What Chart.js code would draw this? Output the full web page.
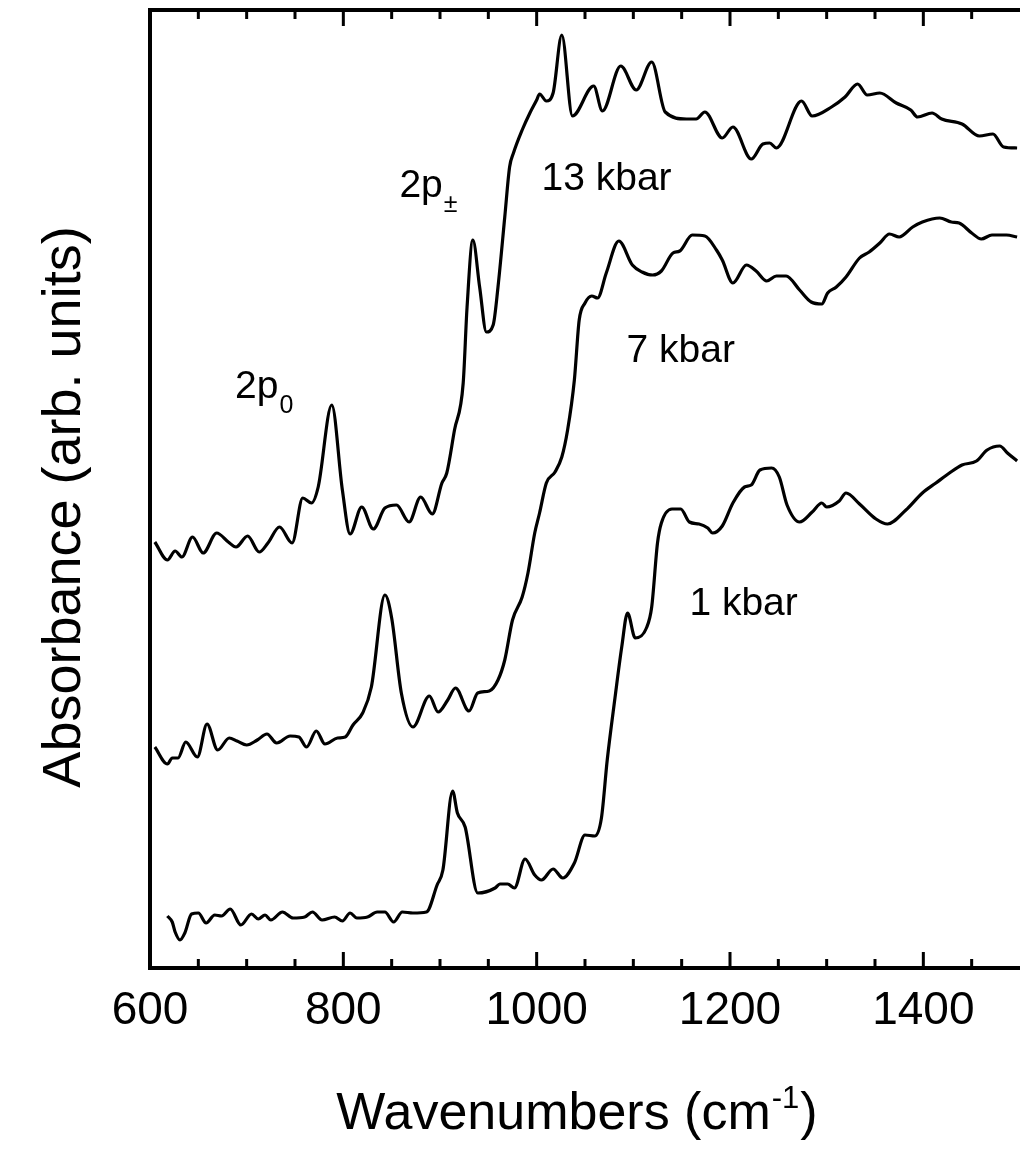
<!DOCTYPE html>
<html lang="en">
<head>
<meta charset="UTF-8">
<title>Absorbance vs wavenumber</title>
<script src="https://cdn.jsdelivr.net/npm/chart.js@4"></script>
<style>
  html, body { margin: 0; padding: 0; background: #fff; }
  #caixa { width: 1020px; height: 1159px; }
</style>
</head>
<body>
<div id="caixa"><canvas id="grafico" width="1020" height="1159"></canvas></div>
<script>
// 13 kbar spectrum (top)
const wn13 = [605,618,626,633,644,655,669,681,689,701,
              713,722,734,747,758,767,774,788,799,807,
              819,831,843,855,868,880,892,902,907,915,
              924,928,934,941,948,955,960,967,972,976,
              985,993,1000,1003,1010,1017,1026,1037,1059,1068,
              1087,1103,1119,1133,1155,1165,1174,1192,1203,1222,
              1234,1241,1248,1274,1285,1305,1319,1332,1342,1355,
              1372,1387,1394,1409,1419,1440,1458,1472,1483,1497];
const abs13 = [4.26,4.08,4.17,4.11,4.31,4.15,4.35,4.26,4.21,4.32,
               4.16,4.25,4.41,4.25,4.70,4.65,4.81,5.63,4.78,4.34,
               4.61,4.39,4.60,4.63,4.46,4.71,4.54,4.85,4.95,5.38,
               5.85,6.61,7.28,6.81,6.36,6.43,6.81,7.51,8.01,8.15,
               8.38,8.55,8.68,8.74,8.67,8.75,9.33,8.52,8.82,8.57,
               9.02,8.78,9.06,8.56,8.49,8.49,8.56,8.30,8.41,8.09,
               8.24,8.25,8.20,8.67,8.52,8.61,8.71,8.84,8.73,8.75,
               8.65,8.58,8.51,8.55,8.49,8.44,8.32,8.34,8.21,8.20];

// 7 kbar spectrum (middle)
const wn7 = [605,618,623,629,637,649,659,670,682,690,
             700,711,721,731,745,754,762,772,781,794,
             802,810,820,829,843,850,860,872,889,898,
             908,916,930,939,951,960,967,975,985,991,
             998,1003,1010,1019,1026,1032,1039,1044,1050,1057,
             1063,1072,1085,1099,1109,1120,1129,1141,1148,1161,
             1174,1186,1192,1203,1217,1227,1238,1248,1258,1272,
             1284,1295,1301,1310,1320,1334,1344,1355,1365,1375,
             1389,1399,1417,1429,1437,1450,1460,1471,1486,1497];
const abs7 = [2.21,2.04,2.10,2.10,2.26,2.11,2.44,2.18,2.30,2.27,
              2.23,2.28,2.34,2.25,2.32,2.31,2.21,2.37,2.24,2.30,
              2.31,2.43,2.55,2.81,3.73,3.50,2.75,2.41,2.72,2.56,
              2.68,2.80,2.57,2.75,2.77,2.88,3.08,3.48,3.71,3.95,
              4.35,4.55,4.85,4.96,5.11,5.38,5.88,6.48,6.65,6.72,
              6.70,6.95,7.27,7.03,6.96,6.93,6.97,7.15,7.17,7.33,
              7.32,7.18,7.08,6.85,7.03,6.97,6.87,6.92,6.92,6.78,
              6.66,6.64,6.75,6.81,6.91,7.10,7.16,7.25,7.34,7.31,
              7.41,7.46,7.50,7.46,7.45,7.35,7.29,7.33,7.33,7.31];

// 1 kbar spectrum (bottom)
const wn1 = [618,623,626,631,636,643,650,658,667,674,
             683,694,705,712,719,725,737,748,760,768,
             778,791,799,807,814,825,835,843,852,861,
             872,886,897,903,913,918,926,939,957,962,
             970,977,988,998,1005,1017,1027,1039,1050,1060,
             1067,1073,1081,1088,1094,1102,1114,1119,1125,1129,
             1140,1149,1158,1168,1177,1182,1192,1203,1215,1222,
             1231,1243,1251,1259,1272,1285,1295,1300,1313,1320,
             1334,1351,1363,1382,1399,1413,1427,1440,1455,1466,
             1479,1487,1497];
const abs1 = [0.52,0.46,0.36,0.28,0.35,0.54,0.55,0.45,0.53,0.52,
              0.59,0.43,0.54,0.49,0.53,0.48,0.56,0.50,0.51,0.56,
              0.48,0.51,0.47,0.55,0.50,0.51,0.56,0.56,0.46,0.56,
              0.55,0.56,0.83,0.98,1.77,1.55,1.41,0.75,0.80,0.84,
              0.84,0.80,1.09,0.93,0.88,0.99,0.90,1.05,1.33,1.32,
              1.50,2.08,2.70,3.21,3.55,3.30,3.41,3.61,4.25,4.45,
              4.59,4.59,4.46,4.44,4.40,4.35,4.42,4.65,4.81,4.83,
              4.98,5.00,4.91,4.63,4.46,4.56,4.65,4.61,4.67,4.75,
              4.64,4.49,4.44,4.58,4.75,4.85,4.95,5.03,5.07,5.18,
              5.22,5.15,5.07];

const xMin = 600, xMax = 1500, yMin = 0, yMax = 9.58;
const xLabelStep = 200, xMinorStep = 50;

// text labels placed in data coordinates (left edge, baseline)
const rotulos = [
  { texto: '13 kbar', indice: '', x: 1005, y: 7.78 },
  { texto: '7 kbar',  indice: '', x: 1093, y: 6.06 },
  { texto: '1 kbar',  indice: '', x: 1158, y: 3.53 },
  { texto: '2p',      indice: '0', x: 688,  y: 5.70 },
  { texto: '2p',      indice: '\u00b1', x: 858, y: 7.71 }
];

const fonte = '"Liberation Sans", Arial, Helvetica, sans-serif';

function serie(xs, ys) {
  return xs.map((v, i) => ({ x: v, y: ys[i] }));
}

const estiloLinha = {
  borderColor: '#000',
  borderWidth: 3.2,
  pointRadius: 0,
  fill: false,
  cubicInterpolationMode: 'monotone'
};

const moldura = {
  id: 'moldura',
  afterDraw(chart) {
    const ctx = chart.ctx;
    const sx = chart.scales.x, sy = chart.scales.y;
    const area = chart.chartArea;
    ctx.save();
    ctx.strokeStyle = '#000';
    ctx.lineWidth = 3;
    // inward ticks on bottom and top
    for (let v = xMin; v < xMax; v += xMinorStep) {
      const px = sx.getPixelForValue(v);
      const len = v % xLabelStep === 0 ? 16 : 9;
      ctx.beginPath();
      ctx.moveTo(px, area.bottom);
      ctx.lineTo(px, area.bottom - len);
      ctx.moveTo(px, area.top);
      ctx.lineTo(px, area.top + len);
      ctx.stroke();
    }

    // curve labels
    ctx.fillStyle = '#000';
    ctx.textAlign = 'left';
    ctx.textBaseline = 'alphabetic';
    rotulos.forEach(r => {
      const px = sx.getPixelForValue(r.x);
      const py = sy.getPixelForValue(r.y);
      ctx.font = '39px ' + fonte;
      ctx.fillText(r.texto, px, py);
      if (r.indice) {
        const w = ctx.measureText(r.texto).width;
        ctx.font = '25px ' + fonte;
        ctx.fillText(r.indice, px + w + 1, py + 15);
      }
    });

    // x title with superscript
    ctx.font = '52px ' + fonte;
    const parte1 = 'Wavenumbers (cm';
    const parte3 = ')';
    const w1 = ctx.measureText(parte1).width;
    const w3 = ctx.measureText(parte3).width;
    ctx.font = '31px ' + fonte;
    const w2 = ctx.measureText('-1').width;
    let xi = 576 - (w1 + w2 + w3) / 2;
    const base = 1129;
    ctx.font = '52px ' + fonte;
    ctx.fillText(parte1, xi, base);
    ctx.font = '31px ' + fonte;
    ctx.fillText('-1', xi + w1 + 1, base - 21);
    ctx.font = '52px ' + fonte;
    ctx.fillText(parte3, xi + w1 + w2 + 2, base);

    // y title
    ctx.translate(65, 507);
    ctx.rotate(-Math.PI / 2);
    ctx.textAlign = 'center';
    ctx.textBaseline = 'middle';
    ctx.font = '54px ' + fonte;
    ctx.fillText('Absorbance (arb. units)', 0, 0);
    ctx.restore();
  }
};

const ctx = document.getElementById('grafico');

new Chart(ctx, {
  type: 'line',
  data: {
    datasets: [
      Object.assign({ label: '13 kbar', data: serie(wn13, abs13) }, estiloLinha),
      Object.assign({ label: '7 kbar', data: serie(wn7, abs7) }, estiloLinha),
      Object.assign({ label: '1 kbar', data: serie(wn1, abs1) }, estiloLinha)
    ]
  },
  options: {
    responsive: false,
    animation: false,
    devicePixelRatio: 1,
    layout: { padding: 0 },
    plugins: {
      legend: { display: false },
      tooltip: { enabled: false }
    },
    scales: {
      x: {
        type: 'linear',
        position: 'bottom',
        min: xMin,
        max: xMax,
        grid: { display: false, drawTicks: false },
        border: { display: true, color: '#000', width: 4 },
        ticks: {
          stepSize: xLabelStep,
          includeBounds: false,
          autoSkip: false,
          maxRotation: 0,
          padding: 16,
          color: '#000',
          font: { family: fonte, size: 46 },
          callback: v => (v % xLabelStep === 0 && v < xMax ? String(v) : '')
        },
        afterFit(s) { s.height = 191; }
      },
      xTopo: {
        type: 'linear',
        position: 'top',
        min: xMin,
        max: xMax,
        grid: { display: false, drawTicks: false },
        border: { display: true, color: '#000', width: 4 },
        ticks: { display: false },
        afterFit(s) { s.height = 10; }
      },
      y: {
        min: yMin,
        max: yMax,
        grid: { display: false, drawTicks: false },
        border: { display: true, color: '#000', width: 4 },
        ticks: { display: false },
        afterFit(s) { s.width = 150; }
      }
    }
  },
  plugins: [moldura]
});
</script>
</body>
</html>
